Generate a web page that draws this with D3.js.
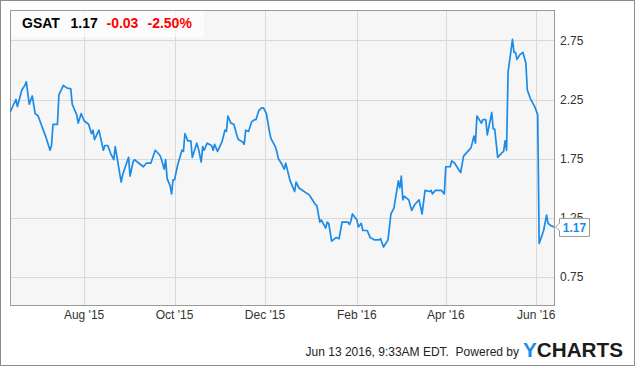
<!DOCTYPE html>
<html>
  <head>
    <meta charset="utf-8">
    <title>GSAT</title>
    <style>
      body { margin: 0; background: #fff; }
      text { font-family: "Liberation Sans", Arial, sans-serif; }
    </style>
  </head>
  <body>
    <svg id="chart" width="635" height="366"></svg>
    <script src="https://d3js.org/d3.v7.min.js"></script>
    <script>
      // daily closes
      dates = [
        '2015-06-12','2015-06-16','2015-06-17','2015-06-20','2015-06-22','2015-06-23','2015-06-25','2015-06-27',
        '2015-06-29','2015-07-01','2015-07-03','2015-07-06','2015-07-09','2015-07-10','2015-07-11','2015-07-14',
        '2015-07-15','2015-07-18','2015-07-20','2015-07-23','2015-07-24','2015-07-27','2015-07-28','2015-07-30',
        '2015-08-01','2015-08-04','2015-08-06','2015-08-07','2015-08-08','2015-08-11','2015-08-14','2015-08-15',
        '2015-08-17','2015-08-19','2015-08-21','2015-08-22','2015-08-26','2015-08-27','2015-08-28','2015-08-31',
        '2015-09-01','2015-09-03','2015-09-04','2015-09-07','2015-09-10','2015-09-12','2015-09-15','2015-09-18',
        '2015-09-21','2015-09-22','2015-09-24','2015-09-25','2015-09-26','2015-09-28','2015-09-29','2015-09-30',
        '2015-10-01','2015-10-03','2015-10-06','2015-10-07','2015-10-08','2015-10-10','2015-10-12','2015-10-13',
        '2015-10-16','2015-10-17','2015-10-19','2015-10-20','2015-10-21','2015-10-23','2015-10-26','2015-10-27',
        '2015-10-28','2015-10-30','2015-11-02','2015-11-04','2015-11-05','2015-11-06','2015-11-08','2015-11-10',
        '2015-11-12','2015-11-13','2015-11-16','2015-11-17','2015-11-18','2015-11-20','2015-11-22','2015-11-24',
        '2015-11-25','2015-11-27','2015-11-29','2015-11-30','2015-12-02','2015-12-04','2015-12-05','2015-12-08',
        '2015-12-09','2015-12-10','2015-12-12','2015-12-14','2015-12-15','2015-12-18','2015-12-21','2015-12-22',
        '2015-12-24','2015-12-31','2016-01-01','2016-01-04','2016-01-05','2016-01-07','2016-01-08','2016-01-11',
        '2016-01-12','2016-01-13','2016-01-15','2016-01-18','2016-01-20','2016-01-22','2016-01-26','2016-01-27',
        '2016-01-28','2016-01-29','2016-02-01','2016-02-02','2016-02-04','2016-02-05','2016-02-08','2016-02-10',
        '2016-02-13','2016-02-16','2016-02-17','2016-02-19','2016-02-22','2016-02-24','2016-02-26','2016-02-29',
        '2016-03-01','2016-03-02','2016-03-03','2016-03-04','2016-03-07','2016-03-09','2016-03-11','2016-03-14',
        '2016-03-16','2016-03-18','2016-03-21','2016-03-22','2016-03-23','2016-03-25','2016-03-28','2016-03-29',
        '2016-03-31','2016-04-01','2016-04-04','2016-04-05','2016-04-07','2016-04-11','2016-04-13','2016-04-18',
        '2016-04-20','2016-04-21','2016-04-22','2016-04-25','2016-04-26','2016-04-28','2016-04-29','2016-05-02',
        '2016-05-03','2016-05-04','2016-05-06','2016-05-09','2016-05-10','2016-05-11','2016-05-12','2016-05-13',
        '2016-05-16','2016-05-17','2016-05-18','2016-05-19','2016-05-21','2016-05-23','2016-05-25','2016-05-26',
        '2016-05-28','2016-05-31','2016-06-02','2016-06-03','2016-06-06','2016-06-08','2016-06-09','2016-06-11',
        '2016-06-13'
      ]
      prices = [
        2.14, 2.25, 2.19, 2.33, 2.37, 2.40, 2.21, 2.28,
        2.13, 2.11, 2.04, 1.94, 1.82, 1.86, 2.04, 2.04,
        2.29, 2.37, 2.35, 2.34, 2.21, 2.12, 2.05, 2.13,
        2.07, 2.04, 1.96, 1.99, 1.91, 1.99, 1.82, 1.86,
        1.86, 1.79, 1.74, 1.85, 1.55, 1.61, 1.65, 1.76,
        1.60, 1.72, 1.74, 1.71, 1.68, 1.71, 1.71, 1.82,
        1.78, 1.75, 1.66, 1.74, 1.58, 1.52, 1.45, 1.57,
        1.57, 1.69, 1.82, 1.81, 1.96, 1.90, 1.90, 1.76,
        1.88, 1.84, 1.72, 1.85, 1.82, 1.88, 1.86, 1.82,
        1.87, 1.81, 1.89, 1.99, 1.98, 2.11, 2.05, 2.04,
        1.95, 1.91, 1.89, 1.87, 1.99, 1.98, 2.06, 2.08,
        2.08, 2.16, 2.18, 2.18, 2.13, 1.98, 1.92, 1.85,
        1.81, 1.75, 1.71, 1.66, 1.71, 1.56, 1.47, 1.55,
        1.50, 1.44, 1.42, 1.36, 1.35, 1.21, 1.23, 1.16,
        1.21, 1.20, 1.05, 1.08, 1.07, 1.21, 1.21, 1.19,
        1.22, 1.28, 1.23, 1.17, 1.20, 1.14, 1.14, 1.08,
        1.06, 1.06, 1.07, 1.00, 1.06, 1.28, 1.33, 1.56,
        1.50, 1.60, 1.40, 1.43, 1.40, 1.31, 1.36, 1.40,
        1.28, 1.48, 1.47, 1.48, 1.45, 1.48, 1.48, 1.48,
        1.45, 1.68, 1.68, 1.73, 1.71, 1.63, 1.77, 1.84,
        1.94, 1.88, 2.11, 2.05, 2.08, 2.08, 1.95, 2.14,
        2.00, 2.00, 1.76, 1.80, 1.81, 1.90, 1.82, 2.48,
        2.76, 2.65, 2.65, 2.59, 2.63, 2.65, 2.56, 2.33,
        2.26, 2.19, 2.12, 1.03, 1.14, 1.27, 1.20, 1.18,
        1.17
      ]
      yTicks = [0.75, 1.25, 1.75, 2.25, 2.75]
      xTicks = ['2015-08-01','2015-10-01','2015-12-01','2016-02-01','2016-04-01','2016-06-01']
      header = { ticker: 'GSAT', last: '1.17', change: '-0.03', pct: '-2.50%' }
      stamp = 'Jun 13 2016, 9:33AM EDT.  Powered by'

      width = 635
      height = 366
      plot = { left: 10, right: 554, top: 10, bottom: 305 }
      lineColor = '#1a8be8'

      parse = d3.timeParse('%Y-%m-%d')
      data = dates.map((d, i) => ({ date: parse(d), value: prices[i] }))

      xScale = d3.scaleTime()
        .domain([ parse('2015-06-12'), parse('2016-06-13') ])
        .range([ plot.left, plot.right ])
      yScale = d3.scaleLinear()
        .domain([ 0.5, 3.0 ])
        .range([ 306, 11 ])

      const svg = d3.select('#chart')

      svg.append('rect')
        .attr('x', 0.5).attr('y', 0.5)
        .attr('width', width - 1).attr('height', height - 1)
        .attr('fill', '#fff').attr('stroke', '#8c8c8c')

      svg.append('rect')
        .attr('x', plot.left).attr('y', plot.top)
        .attr('width', plot.right - plot.left).attr('height', plot.bottom - plot.top)
        .attr('fill', '#f6f6f6')

      // gridlines
      svg.append('g')
        .selectAll('line')
        .data(yTicks)
        .join('line')
          .attr('x1', plot.left).attr('x2', plot.right)
          .attr('y1', d => Math.round(yScale(d)) + 0.5)
          .attr('y2', d => Math.round(yScale(d)) + 0.5)
          .attr('stroke', '#d9d9d9')

      svg.append('g')
        .selectAll('line')
        .data(xTicks.map(parse))
        .join('line')
          .attr('x1', d => Math.round(xScale(d)) + 0.5)
          .attr('x2', d => Math.round(xScale(d)) + 0.5)
          .attr('y1', plot.top).attr('y2', plot.bottom)
          .attr('stroke', '#d9d9d9')

      // frame
      svg.append('rect')
        .attr('x', plot.left + 0.5).attr('y', plot.top + 0.5)
        .attr('width', plot.right - plot.left).attr('height', plot.bottom - plot.top)
        .attr('fill', 'none').attr('stroke', '#9a9a9a')

      // axis labels
      svg.append('g')
        .selectAll('text')
        .data(yTicks)
        .join('text')
          .attr('x', 560)
          .attr('y', d => yScale(d) + 4.5)
          .attr('font-size', 12)
          .attr('fill', '#333')
          .text(d => d3.format('.2f')(d))

      svg.append('g')
        .selectAll('text')
        .data(xTicks.map(parse))
        .join('text')
          .attr('x', d => xScale(d))
          .attr('y', 319)
          .attr('text-anchor', 'middle')
          .attr('font-size', 12)
          .attr('fill', '#333')
          .text(d => d3.timeFormat("%b '%y")(d))

      // price line
      svg.append('clipPath').attr('id', 'clip')
        .append('rect')
          .attr('x', plot.left).attr('y', plot.top)
          .attr('width', plot.right - plot.left).attr('height', plot.bottom - plot.top)

      line = d3.line()
        .x(d => xScale(d.date))
        .y(d => yScale(d.value))

      svg.append('path')
        .datum(data)
        .attr('clip-path', 'url(#clip)')
        .attr('d', line)
        .attr('fill', 'none')
        .attr('stroke', lineColor)
        .attr('stroke-width', 1.7)
        .attr('stroke-linejoin', 'round')

      // last price callout
      const last = data[data.length - 1]
      const ly = yScale(last.value)
      svg.append('path')
        .attr('d', `M${plot.right + 1.5},${ly} L${plot.right + 5.5},${ly - 4} L${plot.right + 5.5},${ly - 8.5} L${plot.right + 35.5},${ly - 8.5} L${plot.right + 35.5},${ly + 9.5} L${plot.right + 5.5},${ly + 9.5} L${plot.right + 5.5},${ly + 4} Z`)
        .attr('fill', '#fff')
        .attr('stroke', '#999')
      svg.append('text')
        .attr('x', plot.right + 20.5)
        .attr('y', ly + 5)
        .attr('text-anchor', 'middle')
        .attr('font-size', 12)
        .attr('font-weight', 'bold')
        .attr('fill', lineColor)
        .text(d3.format('.2f')(last.value))

      // header box
      svg.append('rect')
        .attr('x', plot.left + 1).attr('y', plot.top + 1)
        .attr('width', 193).attr('height', 26)
        .attr('fill', '#fff').attr('opacity', 0.65)

      const head = svg.append('text')
        .attr('y', 28)
        .attr('font-size', 14)
        .attr('font-weight', 'bold')
      head.append('tspan').attr('x', 22).attr('fill', '#000').text(header.ticker)
      head.append('tspan').attr('x', 70.5).attr('fill', '#000').text(header.last)
      head.append('tspan').attr('x', 106.5).attr('fill', '#f00').text(header.change)
      head.append('tspan').attr('x', 147.5).attr('fill', '#f00').text(header.pct)

      // footer
      svg.append('text')
        .attr('x', 519)
        .attr('y', 356)
        .attr('text-anchor', 'end')
        .attr('font-size', 12)
        .attr('fill', '#222')
        .style('white-space', 'pre')
        .text(stamp)

      const logo = svg.append('text')
        .attr('x', 523)
        .attr('y', 356.5)
        .attr('font-size', 20)
        .attr('font-weight', 900)
        .attr('textLength', 100)
        .attr('lengthAdjust', 'spacingAndGlyphs')
      logo.append('tspan').attr('fill', '#1a8be8').text('Y')
      logo.append('tspan').attr('fill', '#1c1c1c').text('CHARTS')
    </script>
  </body>
</html>
